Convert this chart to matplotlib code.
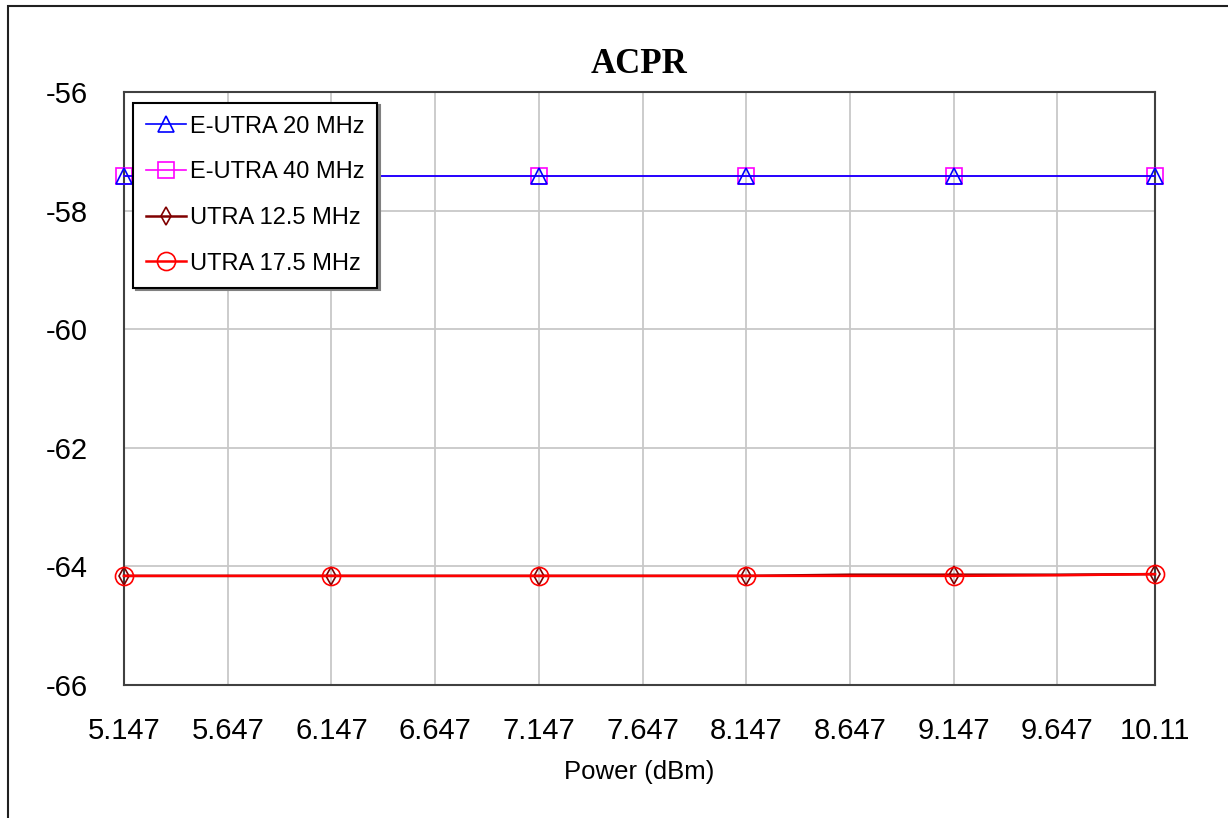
import matplotlib
matplotlib.use('Agg')
import matplotlib.pyplot as plt
from matplotlib.patches import Rectangle

# Données (Power en dBm, ACPR en dB)
power = [5.147, 5.647, 6.147, 6.647, 7.147, 7.647, 8.147, 8.647, 9.147, 9.647, 10.117]
eutra_20 = [-57.42, -57.42, -57.42, -57.42, -57.42, -57.42, -57.42, -57.42, -57.42, -57.42, -57.42]
eutra_40 = [-57.42, -57.42, -57.42, -57.42, -57.42, -57.42, -57.42, -57.42, -57.42, -57.42, -57.42]
utra_125 = [-64.16, -64.16, -64.16, -64.16, -64.16, -64.16, -64.16, -64.14, -64.14, -64.14, -64.13]
utra_175 = [-64.16, -64.16, -64.16, -64.16, -64.16, -64.16, -64.16, -64.16, -64.16, -64.15, -64.13]

xticks = [5.147, 5.647, 6.147, 6.647, 7.147, 7.647, 8.147, 8.647, 9.147, 9.647, 10.117]
xtick_labels = ['5.147', '5.647', '6.147', '6.647', '7.147', '7.647', '8.147', '8.647', '9.147', '9.647', '10.11']
yticks = [-66, -64, -62, -60, -58, -56]

plt.rcParams['font.family'] = ['Liberation Sans', 'DejaVu Sans']
plt.rcParams['axes.unicode_minus'] = False

fig = plt.figure(figsize=(12.28, 8.18), dpi=100)
ax = fig.add_axes([0.101, 0.1626, 0.8395, 0.7249])

# cadre de la fenêtre
fig.patches.append(Rectangle((8 / 1228, -0.1), 1.2, 1 - 6 / 818 + 0.1, transform=fig.transFigure,
                             fill=False, edgecolor='#202020', linewidth=1.5))

mk = [0, 2, 4, 6, 8, 10]
ax.plot(power, eutra_20, color='#0000ff', lw=1.2, marker='^', ms=11, mfc='none', mew=1.2,
        markevery=mk, label='E-UTRA 20 MHz', clip_on=False, zorder=4)
ax.plot(power, eutra_40, color='#ff00ff', lw=1.2, marker='s', ms=12, mfc='none', mew=1.2,
        markevery=mk, label='E-UTRA 40 MHz', clip_on=False, zorder=3)
ax.plot(power, utra_125, color='#800000', lw=1.8, marker='d', ms=9, mfc='none', mew=1.2,
        markevery=mk, label='UTRA 12.5 MHz', clip_on=False, zorder=3)
ax.plot(power, utra_175, color='#ff0000', lw=1.8, marker='o', ms=13, mfc='none', mew=1.2,
        markevery=mk, label='UTRA 17.5 MHz', clip_on=False, zorder=4)

ax.set_xlim(5.147, 10.117)
ax.set_ylim(-66, -56)
ax.set_xticks(xticks)
ax.set_xticklabels(xtick_labels)
ax.set_yticks(yticks)
ax.tick_params(length=0, labelsize=21)
ax.tick_params(axis='x', pad=23)
ax.tick_params(axis='y', pad=26)
ax.grid(True, color='#c8c8c8', lw=1.3)
ax.set_axisbelow(True)
for s in ax.spines.values():
    s.set_color('#404040')
    s.set_linewidth(1.5)

ax.set_title('ACPR', fontsize=25, fontweight='bold', family=['Liberation Serif', 'DejaVu Serif'], pad=14)
ax.set_xlabel('Power (dBm)', fontsize=18.5, labelpad=11)

leg = ax.legend(loc='upper left', bbox_to_anchor=(0.009, 0.982), fontsize=17, fancybox=False,
                shadow={'color': '#808080', 'alpha': 1}, edgecolor='black', framealpha=1,
                handlelength=1.7, handletextpad=0.15, borderpad=0.55, labelspacing=1.0,
                borderaxespad=0)
leg.get_frame().set_linewidth(1.5)

fig.savefig('out.png', dpi=100)
